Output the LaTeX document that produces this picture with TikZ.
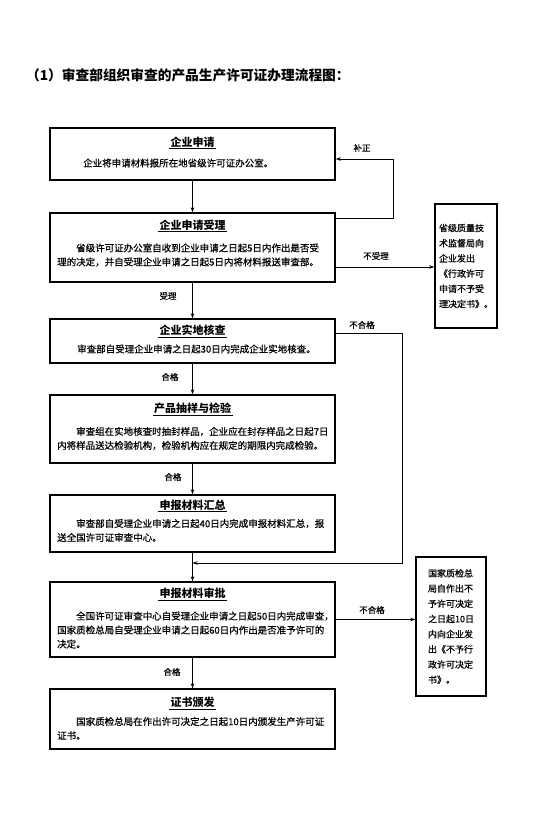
\documentclass[tikz,border=0pt]{standalone}
\usepackage{fontspec}
\newfontfamily\cjk{Noto Sans CJK SC}
\newfontfamily\cjkm[FakeBold=0.6]{Noto Sans CJK SC}
\usetikzlibrary{arrows.meta}
\begin{document}
\begin{tikzpicture}[x=1pt,y=-1pt,
 box/.style={draw, line width=1.4pt, minimum width=285pt, inner sep=0pt},
 sidebox/.style={draw, line width=1.4pt, inner sep=0pt},
 ttl/.style={font=\cjk\bfseries\fontsize{11}{13}\selectfont, inner sep=1.3pt},
 ul/.style={line width=0.6pt},
 body/.style={font=\cjkm\fontsize{9.5}{14}\selectfont, align=left, anchor=west, inner sep=0pt},
 side/.style={font=\cjkm\fontsize{9}{15.2}\selectfont, align=left, inner sep=0pt},
 lbl/.style={font=\cjkm\fontsize{8.5}{10}\selectfont, inner sep=0pt},
 arr/.style={line width=0.8pt, -{Stealth[length=5pt,width=3.5pt]}}
]
\useasboundingbox (0,0) rectangle (548,817);
\fill[white] (0,0) rectangle (548,817);

\node[anchor=west, font=\cjk\bfseries\fontsize{13.7}{16}\selectfont, inner sep=0pt] (hd) at (26,75) {（1）审查部组织审查的产品生产许可证办理流程图：};

% main boxes
\node[box, minimum height=52pt] (b1) at (192.5,154) {};
\node[box, minimum height=69pt] (b2) at (192.5,247.5) {};
\node[box, minimum height=44pt] (b3) at (192.5,341) {};
\node[box, minimum height=68pt] (b4) at (192.5,429) {};
\node[box, minimum height=57pt] (b5) at (192.5,523.5) {};
\node[box, minimum height=75pt] (b6) at (192.5,619.5) {};
\node[box, minimum height=60pt] (b7) at (192.5,719) {};

% titles
\node[ttl] (t1) at (192.5,142) {企业申请};
\node[ttl] (t2) at (192.5,225) {企业申请受理};
\node[ttl] (t3) at (192.5,330) {企业实地核查};
\node[ttl] (t4) at (192.5,408) {产品抽样与检验};
\node[ttl] (t5) at (192.5,505) {申报材料汇总};
\node[ttl] (t6) at (192.5,593) {申报材料审批};
\node[ttl] (t7) at (192.5,702) {证书颁发};
\foreach \t in {t1,t2,t3,t4,t5,t6,t7} \draw[ul] (\t.south west) -- (\t.south east);

% bodies
\node[body] (d1) at (83,163) {企业将申请材料报所在地省级许可证办公室。};
\node[body] (d2) at (57,255) {\hspace*{2em}省级许可证办公室自收到企业申请之日起5日内作出是否受\\理的决定，并自受理企业申请之日起5日内将材料报送审查部。};
\node[body] (d3) at (77,349) {审查部自受理企业申请之日起30日内完成企业实地核查。};
\node[body] (d4) at (57,438.5) {\hspace*{2em}审查组在实地核查时抽封样品，企业应在封存样品之日起7日\\内将样品送达检验机构，检验机构应在规定的期限内完成检验。};
\node[body] (d5) at (57,530.5) {\hspace*{2em}审查部自受理企业申请之日起40日内完成申报材料汇总，报\\送全国许可证审查中心。};
\node[body] (d6) at (57,630) {\hspace*{2em}全国许可证审查中心自受理企业申请之日起50日内完成审查，\\国家质检总局自受理企业申请之日起60日内作出是否准予许可的\\决定。};
\node[body] (d7) at (57,728.5) {\hspace*{2em}国家质检总局在作出许可决定之日起10日内颁发生产许可证\\证书。};

% side boxes
\node[sidebox, minimum width=62pt, minimum height=124pt] (r1) at (466,266) {};
\node[side] (s1) at (r1.center) {省级质量技\\术监督局向\\企业发出\\《行政许可\\申请不予受\\理决定书》。};
\node[sidebox, minimum width=70pt, minimum height=139pt] (r2) at (451,626.5) {};
\node[side] (s2) at (r2.center) {国家质检总\\局自作出不\\予许可决定\\之日起10日\\内向企业发\\出《不予行\\政许可决定\\书》。};

% trunk
\coordinate (m) at (192.5,563);
\draw[arr] (b1) -- (b2);
\draw[arr] (b2) -- (b3);
\draw[arr] (b3) -- (b4);
\draw[arr] (b4) -- (b5);
\draw[arr] (b5) -- (b6);
\draw[arr] (b6) -- (b7);

% loops
\coordinate (c1) at (393,159);
\draw[arr] ([yshift=29.5pt]b2.east) -| (c1) -- (c1 -| b1.east);
\draw[arr] ([yshift=-19.5pt]b2.east) -- ([yshift=-19.5pt]b2.east -| r1.west);
\coordinate (c3) at (402,563);
\draw[arr] ([yshift=8pt]b3.east) -| (c3) -- (m);
\draw[arr] (b6.east) -- (b6.east -| r2.west);

% labels
\node[lbl] (l1) at (362,148) {补正};
\node[lbl] (l2) at (376,256) {不受理};
\node[lbl] (l3) at (168,296) {受理};
\node[lbl] (l4) at (362,325) {不合格};
\node[lbl] (l5) at (170,377) {合格};
\node[lbl] (l6) at (173,477) {合格};
\node[lbl] (l7) at (372,610) {不合格};
\node[lbl] (l8) at (172,672) {合格};
\end{tikzpicture}
\end{document}
